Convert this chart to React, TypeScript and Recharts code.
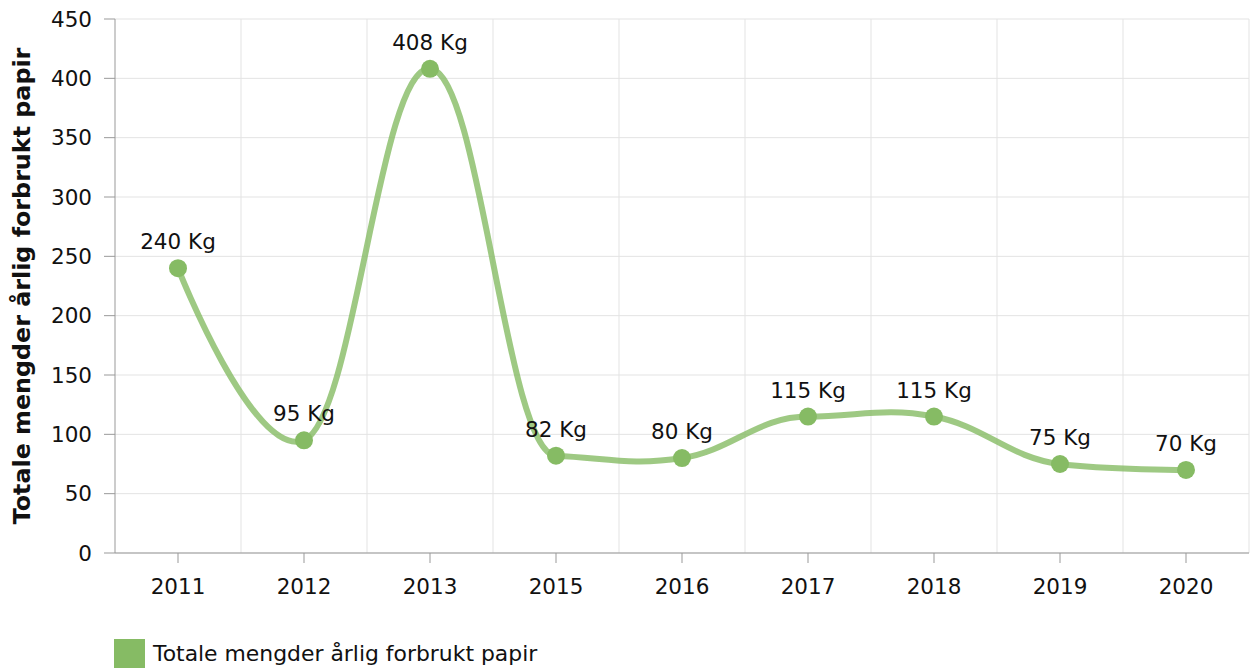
import React from 'react'
import { LineChart, Line, XAxis, YAxis, CartesianGrid, Legend, LabelList } from 'recharts'

const years = ['2011', '2012', '2013', '2015', '2016', '2017', '2018', '2019', '2020']
const paperKg = [240, 95, 408, 82, 80, 115, 115, 75, 70]
const yTicks = [0, 50, 100, 150, 200, 250, 300, 350, 400, 450]
const seriesName = 'Totale mengder årlig forbrukt papir'

const rows = years.map((year, i) => ({ year, value: paperKg[i] }))

const green = '#86bb64'
const font = '"DejaVu Sans", Verdana, sans-serif'

// spline: control points at 1.5 smoothing; incoming handle may overshoot a little,
// outgoing handle is kept inside the next point
function smoothSpline(context: any) {
  let pts: number[][] = []
  const slack = 20
  return {
    areaStart() {},
    areaEnd() {},
    lineStart() {
      pts = []
    },
    point(x: number, y: number) {
      pts.push([+x, +y])
    },
    lineEnd() {
      const n = pts.length
      if (!n) return
      const sm = 1.5
      const den = sm + 1
      const left: (number[] | null)[] = []
      const right: (number[] | null)[] = []
      for (let i = 0; i < n; i++) {
        if (i === 0 || i === n - 1) {
          left.push(null)
          right.push(null)
          continue
        }
        const [px, py] = pts[i]
        const [lx, ly] = pts[i - 1]
        const [nx, ny] = pts[i + 1]
        const lcx = (sm * px + lx) / den
        let lcy = (sm * py + ly) / den
        const rcx = (sm * px + nx) / den
        let rcy = (sm * py + ny) / den
        let corr = 0
        if (rcx !== lcx) corr = ((rcy - lcy) * (rcx - px)) / (rcx - lcx) + py - rcy
        lcy += corr
        rcy += corr
        const hi = Math.max(ly, py) + slack
        const lo = Math.min(ly, py) - slack
        if (lcy > hi) {
          lcy = hi
          rcy = 2 * py - lcy
        } else if (lcy < lo) {
          lcy = lo
          rcy = 2 * py - lcy
        }
        if (rcy > ny && rcy > py) {
          rcy = Math.max(ny, py)
          lcy = 2 * py - rcy
        } else if (rcy < ny && rcy < py) {
          rcy = Math.min(ny, py)
          lcy = 2 * py - rcy
        }
        left.push([lcx, lcy])
        right.push([rcx, rcy])
      }
      context.moveTo(pts[0][0], pts[0][1])
      for (let i = 1; i < n; i++) {
        const a = right[i - 1] || pts[i - 1]
        const b = left[i] || pts[i]
        context.bezierCurveTo(a[0], a[1], b[0], b[1], pts[i][0], pts[i][1])
      }
    },
  }
}

function LegendBox() {
  return (
    <div style={{ height: 65, display: 'flex', alignItems: 'flex-end', paddingLeft: 114, fontFamily: font }}>
      <div style={{ width: 31, height: 29, background: green }} />
      <span style={{ fontSize: 21.9, color: '#111', marginLeft: 8, lineHeight: '29px' }}>{seriesName}</span>
    </div>
  )
}

export default function App() {
  return (
    <div style={{ position: 'absolute', left: 0, top: 0, width: 1252, height: 668, background: '#fff' }}>
      <LineChart
        width={1252}
        height={668}
        data={rows}
        margin={{ top: 19, right: 3, left: 0, bottom: 0 }}
        style={{ fontFamily: font }}
      >
        <CartesianGrid
          stroke="#e3e3e3"
          strokeWidth={1}
          verticalCoordinatesGenerator={({ offset }: any) =>
            years.map((_, i) => offset.left + ((i + 1) * offset.width) / years.length)
          }
        />
        <XAxis
          dataKey="year"
          scale="band"
          height={50}
          tickSize={10}
          tickMargin={16}
          stroke="#999"
          tick={{ fill: '#111', fontSize: 21.5 }}
        />
        <YAxis
          width={115}
          domain={[0, 450]}
          ticks={yTicks}
          tickSize={11}
          tickMargin={12}
          stroke="#999"
          tick={{ fill: '#111', fontSize: 21.5 }}
          label={{
            content: ({ viewBox }: any) => (
              <text
                x={22}
                y={viewBox.y + viewBox.height / 2}
                transform={`rotate(-90, 22, ${viewBox.y + viewBox.height / 2})`}
                textAnchor="middle"
                dominantBaseline="central"
                fontWeight="bold"
                fontSize={23.8}
                fill="#111"
                fontFamily={font}
              >
                {seriesName}
              </text>
            ),
          }}
        />
        <Legend verticalAlign="bottom" align="left" height={65} content={<LegendBox />} />
        <Line
          dataKey="value"
          name={seriesName}
          type={smoothSpline as any}
          stroke={green}
          strokeOpacity={0.8}
          strokeWidth={6}
          dot={{ r: 9, fill: green, stroke: 'none', fillOpacity: 1 }}
          activeDot={false}
          isAnimationActive={false}
        >
          <LabelList
            dataKey="value"
            position="top"
            offset={19}
            formatter={(v: any) => `${v} Kg`}
            fill="#111"
            fontSize={21.5}
          />
        </Line>
      </LineChart>
    </div>
  )
}
